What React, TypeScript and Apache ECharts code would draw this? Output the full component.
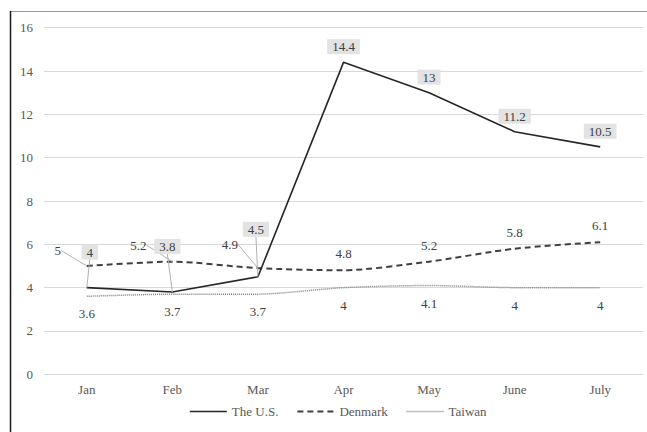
import React, { useEffect, useRef } from "react";
import * as echarts from "echarts";

const months = ["Jan", "Feb", "Mar", "Apr", "May", "June", "July"];
const usValues = [4, 3.8, 4.5, 14.4, 13, 11.2, 10.5];
const denmarkValues = [5, 5.2, 4.9, 4.8, 5.2, 5.8, 6.1];
const taiwanValues = [3.6, 3.7, 3.7, 4, 4.1, 4, 4];
const seriesNames = ["The U.S.", "Denmark", "Taiwan"];

const FONT = "'Liberation Serif', 'Times New Roman', 'DejaVu Serif', serif";

// label offsets for crowded points (dx, dy)
const usShift: Record<number, [number, number]> = { 0: [3, -20], 1: [-5, -30], 2: [-2, -32] };
const dkShift: Record<number, [number, number]> = { 0: [-29, 1], 1: [-34, 0], 2: [-28, -7] };

const withLeaders = (vals: number[], shift: Record<number, [number, number]>) =>
  vals.map((v, i) =>
    shift[i]
      ? { value: v, labelLine: { show: true, lineStyle: { color: "#b0b0b0", width: 1 } } }
      : { value: v, labelLine: { show: false } }
  );

const HIDDEN = "rgba(0,0,0,0)";
const US_LINE = { color: "#262626", width: 1.6, type: "solid" as any };
const DK_LINE = { color: "#404040", width: 2, type: [6, 4] as any };
const TW_LINE = { color: "#7f7f7f", width: 1.5, type: [1, 1] as any };

export default function App() {
  const ref = useRef<HTMLDivElement>(null);
  useEffect(() => {
    if (!ref.current) return;
    const chart = echarts.init(ref.current, null, { renderer: "svg" });
    chart.setOption({
      animation: false,
      backgroundColor: "#ffffff",
      textStyle: { fontFamily: FONT },
      grid: { left: 44, right: 4, top: 27.7, bottom: 57.7, containLabel: false },
      graphic: [
        { type: "line", shape: { x1: 10, y1: 11.5, x2: 647, y2: 11.5 }, style: { stroke: "#9a9a9a", lineWidth: 1 } },
        { type: "line", shape: { x1: 10.5, y1: 11, x2: 10.5, y2: 432 }, style: { stroke: "#1a1a1a", lineWidth: 1.5 } },
      ],
      legend: {
        bottom: 14,
        left: 189,
        padding: 0,
        itemWidth: 37,
        itemHeight: 8,
        itemGap: 18,
        itemStyle: { color: HIDDEN, borderColor: HIDDEN, borderWidth: 0 },
        textStyle: { fontFamily: FONT, fontSize: 13, color: "#595959" },
        data: [
          { name: seriesNames[0], lineStyle: US_LINE },
          { name: seriesNames[1], lineStyle: DK_LINE },
          { name: seriesNames[2], lineStyle: TW_LINE },
        ],
      },
      xAxis: {
        type: "category",
        data: months,
        boundaryGap: true,
        axisLine: { lineStyle: { color: "#d9d9d9" } },
        axisTick: { show: false },
        axisLabel: { fontFamily: FONT, fontSize: 13, color: "#595959", margin: 9 },
      },
      yAxis: {
        type: "value",
        min: 0,
        max: 16,
        interval: 2,
        axisLine: { show: false },
        axisTick: { show: false },
        splitLine: { lineStyle: { color: "#d9d9d9", width: 1 } },
        axisLabel: { fontFamily: FONT, fontSize: 13, color: "#595959", margin: 11 },
      },
      series: [
        {
          name: seriesNames[0],
          type: "line",
          data: withLeaders(usValues, usShift),
          smooth: false,
          symbol: "circle",
          symbolSize: 0.1,
          showSymbol: true,
          z: 5,
          lineStyle: US_LINE,
          itemStyle: { color: HIDDEN, borderWidth: 0 },
          label: {
            show: true,
            position: "top",
            distance: 8,
            fontFamily: FONT,
            fontSize: 13,
            color: "#404040",
            backgroundColor: "#e3e3e3",
            padding: [1, 5, 1, 5],
          },
          labelLayout: (p: any) => {
            const s = usShift[p.dataIndex];
            return s ? { dx: s[0], dy: s[1] } : {};
          },
        },
        {
          name: seriesNames[1],
          type: "line",
          data: withLeaders(denmarkValues, dkShift),
          smooth: 0.25,
          symbol: "circle",
          symbolSize: 0.1,
          showSymbol: true,
          z: 4,
          lineStyle: DK_LINE,
          itemStyle: { color: HIDDEN, borderWidth: 0 },
          label: {
            show: true,
            position: "top",
            distance: 10,
            fontFamily: FONT,
            fontSize: 13,
            color: "#404040",
          },
          labelLayout: (p: any) => {
            const s = dkShift[p.dataIndex];
            return s ? { dx: s[0], dy: s[1] } : {};
          },
        },
        {
          name: seriesNames[2],
          type: "line",
          data: taiwanValues,
          smooth: 0.25,
          symbol: "circle",
          symbolSize: 0.1,
          showSymbol: true,
          z: 3,
          lineStyle: TW_LINE,
          itemStyle: { color: HIDDEN, borderWidth: 0 },
          label: {
            show: true,
            position: "bottom",
            distance: 11,
            fontFamily: FONT,
            fontSize: 13,
            color: "#404040",
          },
        },
      ],
    });
    return () => chart.dispose();
  }, []);
  return (
    <div
      ref={ref}
      style={{ position: "absolute", left: 0, top: 0, width: 647, height: 432 }}
    />
  );
}
